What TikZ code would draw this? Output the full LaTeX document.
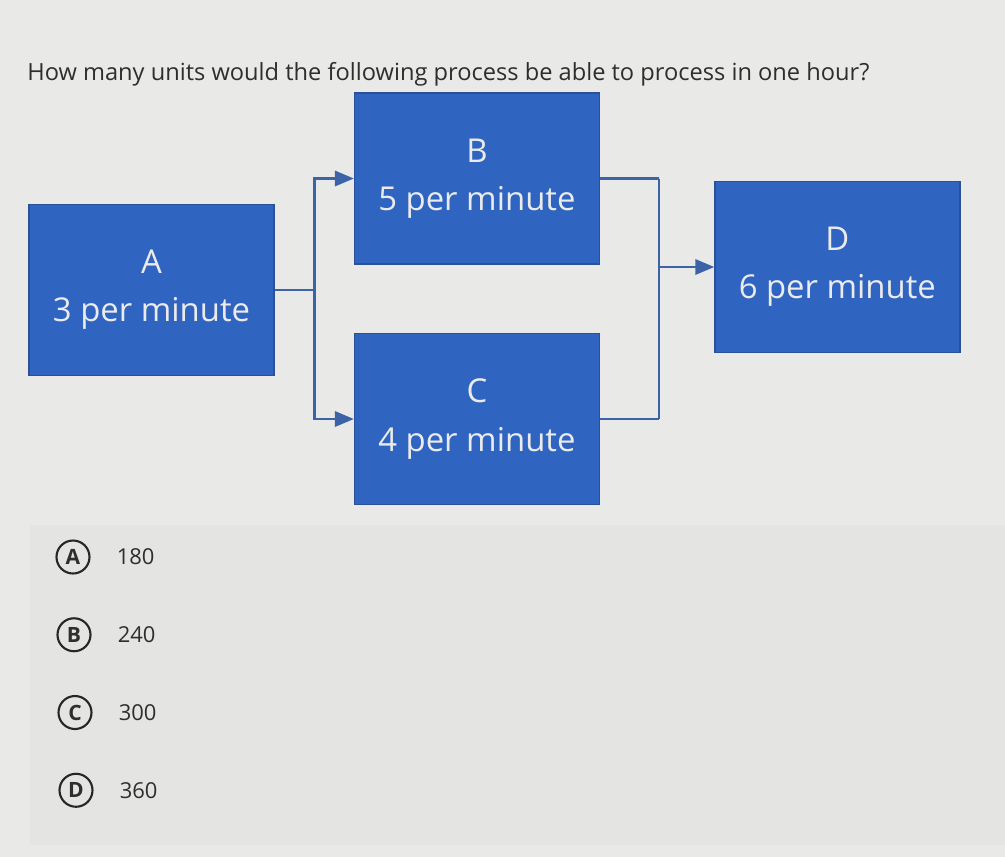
\documentclass[tikz,border=0pt]{standalone}
\usepackage{fontspec}
\setmainfont{Open Sans}
\usepackage{tikz}
\usetikzlibrary{calc,arrows,positioning}

\definecolor{boxblue}{HTML}{2F64C0}
\definecolor{boxedge}{HTML}{2A5096}
\definecolor{linkblue}{HTML}{3C62A8}
\definecolor{screen}{HTML}{E9E9E7}
\definecolor{optband}{HTML}{E4E4E2}
\definecolor{inkgray}{HTML}{2E2E2E}

\tikzset{
	procbox/.style={fill=boxblue, draw=boxedge, line width=0.8pt, text=white!92!black,
		minimum width=4.9cm, minimum height=3.42cm, align=center,
		font=\fontsize{18.7}{27.4}\selectfont},
	link/.style={draw=linkblue, line width=1.5pt},
	optcircle/.style={circle, draw=black!85, line width=1.2pt, minimum size=0.66cm, inner sep=0pt,
		text=inkgray, font=\fontsize{12}{14}\selectfont\bfseries},
	optvalue/.style={text=inkgray, font=\fontsize{12.5}{15}\selectfont}
}

\begin{document}
\begin{tikzpicture}[node distance=1.5cm, auto]
					\fill[screen] (0,0) rectangle (20.1,-17.14);
					\fill[optband] (0.6,-10.5) rectangle (20.1,-16.9);
					\useasboundingbox (0,0) rectangle (20.1,-17.14);

					\node[anchor=base west, text=inkgray, font=\fontsize{13.45}{16}\selectfont, inner sep=0pt] (question) at (0.54,-1.6)
						{How many units would the following process be able to process in one hour?};

					\node[procbox] (A) at (3.03,-5.8) {A\\3 per minute};
					\node[procbox, right=1.58cm of A, yshift=2.23cm] (B) {B\\5 per minute};
					\node[procbox, right=1.58cm of A, yshift=-2.58cm] (C) {C\\4 per minute};
					\node[procbox, right=2.28cm of B, yshift=-1.77cm] (D) {D\\6 per minute};

					\coordinate[right=0.8cm of A] (split);
					\coordinate[left=1.1cm of D] (merge);

					\path [link]
						(A) edge (split)
						(B) edge[-] (B -| merge)
						(C) edge[-] (C -| merge)
					;
					\draw[link, -{triangle 45}] (split) |- (B);
					\draw[link, -{triangle 45}] (split) |- (C);
					\draw[link] (B -| merge) -- (C -| merge);
					\draw[link, -{triangle 45}] (merge) -- (D);

					\foreach \ltr/\val [count=\i] in {A/180,B/240,C/300,D/360} {
						\node[optcircle] (opt\ltr) at ({1.44+0.02*\i},{-11.14-(\i-1)*1.555}) {\ltr};
						\node[optvalue, right=0.4cm of opt\ltr] (val\ltr) {\val};
					}
                \end{tikzpicture}
\end{document}
